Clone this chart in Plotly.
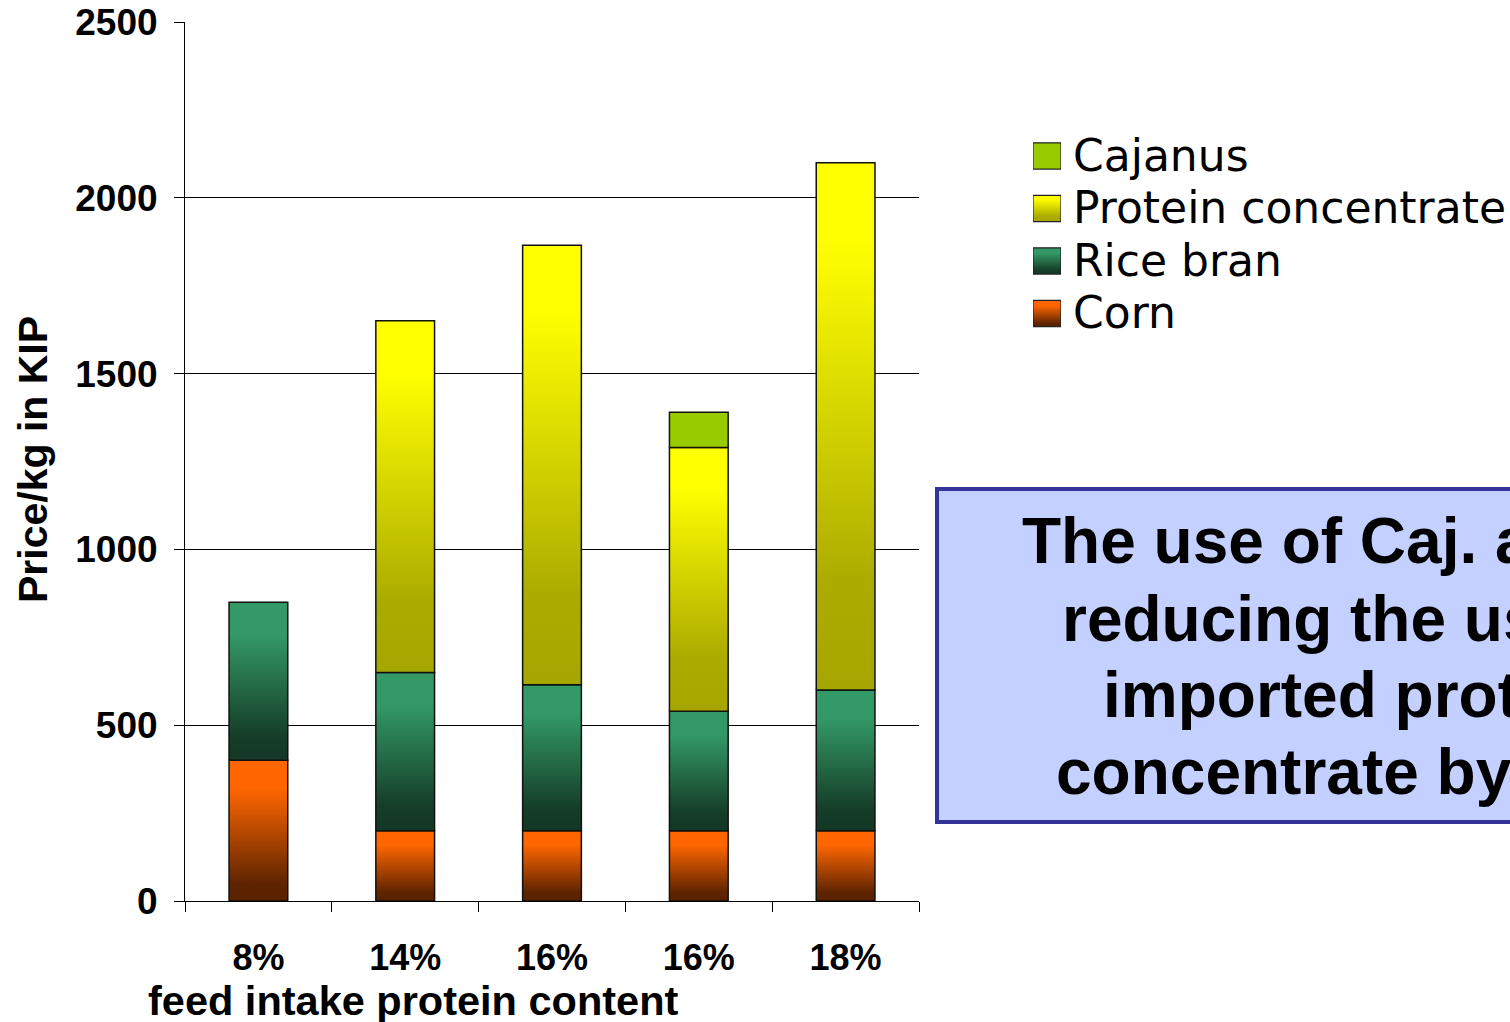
import plotly.graph_objects as go

# ---- data -------------------------------------------------------------
categories = ["8%", "14%", "16%", "16%", "18%"]          # feed intake protein content
series_names = ["Corn", "Rice bran", "Protein concentrate", "Cajanus"]
corn = [400, 200, 200, 200, 200]
rice_bran = [450, 450, 415, 340, 400]
protein_concentrate = [0, 1000, 1250, 750, 1500]
cajanus = [0, 0, 0, 100, 0]
y_ticks = [0, 500, 1000, 1500, 2000, 2500]

series_values = [corn, rice_bran, protein_concentrate, cajanus]

# vertical gradients (bottom -> top) for each series
gradients = {
    "Corn": [[0, "#5a2200"], [0.12, "#5e2400"], [0.8, "#ff6600"], [1, "#ff6600"]],
    "Rice bran": [[0, "#133826"], [0.15, "#153d28"], [0.8, "#339966"], [1, "#339966"]],
    "Protein concentrate": [[0, "#a6a600"], [0.2, "#abab00"], [0.85, "#ffff00"], [1, "#ffff00"]],
    "Cajanus": [[0, "#99cc00"], [1, "#99cc00"]],
}

W, H = 1510, 1022
BAR_HALF = 0.2

def px_x(p):
    return p / W

def px_y(p):
    return (H - p) / H

fig = go.Figure()

# ---- stacked bars, one filled polygon per segment --------------------
base = [0] * len(categories)
for name, vals in zip(series_names, series_values):
    for i, v in enumerate(vals):
        if v <= 0:
            continue
        b, t = base[i], base[i] + v
        fig.add_trace(go.Scatter(
            x=[i - BAR_HALF, i + BAR_HALF, i + BAR_HALF, i - BAR_HALF, i - BAR_HALF],
            y=[b, b, t, t, b],
            mode="lines", fill="toself",
            fillgradient=dict(type="vertical", colorscale=gradients[name]),
            line=dict(color="#111111", width=1.5),
            name=name, showlegend=False, hoverinfo="skip",
            xaxis="x", yaxis="y",
        ))
        base[i] = t

# ---- legend (gradient swatches on a small helper axis) ---------------
legend_order = series_names[::-1]
for k, name in enumerate(legend_order):
    fig.add_trace(go.Scatter(
        x=[0, 1, 1, 0, 0],
        y=[k + 0.25, k + 0.25, k - 0.25, k - 0.25, k + 0.25],
        mode="lines", fill="toself",
        fillgradient=dict(type="vertical", colorscale=gradients[name]),
        line=dict(color="#222222", width=1.2),
        showlegend=False, hoverinfo="skip",
        xaxis="x2", yaxis="y2",
    ))

ROW = 52.5
ROW0 = 156
fig.update_layout(
    xaxis2=dict(domain=[px_x(1033), px_x(1061)], range=[0, 1], visible=False,
                anchor="y2", fixedrange=True),
    yaxis2=dict(domain=[px_y(ROW0 + ROW * 3.5), px_y(ROW0 - ROW * 0.5)],
                range=[3.5, -0.5], visible=False, anchor="x2", fixedrange=True),
)

annotations = []
for k, name in enumerate(legend_order):
    annotations.append(dict(
        text=name, xref="paper", yref="y2", x=px_x(1071), y=k - 0.01,
        xanchor="left", yanchor="middle", showarrow=False,
        font=dict(family="DejaVu Sans", size=44, color="black"),
    ))

bold = dict(family="Liberation Sans, Arial", weight="bold", color="black")

# axis titles
annotations.append(dict(
    text="feed intake protein content", xref="paper", yref="paper",
    x=px_x(413), y=px_y(1000), xanchor="center", yanchor="middle",
    showarrow=False, font=dict(size=41.5, **bold),
))
annotations.append(dict(
    text="Price/kg in KIP", xref="paper", yref="paper",
    x=px_x(33), y=px_y(460), xanchor="center", yanchor="middle",
    textangle=-90, showarrow=False, font=dict(size=41, **bold),
))

# call-out box text
callout_lines = ["The use of Caj. allows", "reducing the use of",
                 "imported protein", "concentrate by 50%"]
callout_left = [1022, 1062, 1103, 1056]
callout_base = [563, 641, 717, 794]
for line, lx, by in zip(callout_lines, callout_left, callout_base):
    annotations.append(dict(
        text=line, xref="paper", yref="paper", x=px_x(lx - 2), y=px_y(by - 22),
        xanchor="left", yanchor="middle", showarrow=False,
        font=dict(size=64, **bold),
    ))

shapes = [dict(
    type="rect", xref="paper", yref="paper",
    x0=px_x(937), x1=px_x(1800), y0=px_y(822), y1=px_y(489),
    fillcolor="#c4d0ff", line=dict(color="#333399", width=4), layer="below",
)]

fig.update_layout(
    width=W, height=H,
    margin=dict(l=0, r=0, t=0, b=0, pad=0, autoexpand=False),
    paper_bgcolor="white", plot_bgcolor="white",
    showlegend=False,
    annotations=annotations,
    shapes=shapes,
    xaxis=dict(
        domain=[px_x(185), px_x(919)], range=[-0.5, len(categories) - 0.5],
        tickvals=list(range(len(categories))), ticktext=categories,
        ticks="", ticklabelstandoff=25,
        tickfont=dict(size=36, **bold),
        showgrid=False, zeroline=False,
        showline=True, linecolor="black", linewidth=1,
        minor=dict(tickvals=[i - 0.5 for i in range(len(categories) + 1)],
                   ticks="outside", ticklen=10, tickcolor="black", tickwidth=1,
                   showgrid=False),
        anchor="y", fixedrange=True, automargin=False,
    ),
    yaxis=dict(
        domain=[px_y(901), px_y(22)], range=[0, 2500],
        tickvals=y_ticks, ticks="outside", ticklen=10, tickcolor="black",
        ticklabelstandoff=9,
        tickfont=dict(size=37, **bold),
        showgrid=True, gridcolor="black", gridwidth=1,
        zeroline=False, showline=True, linecolor="black", linewidth=1,
        anchor="x", fixedrange=True, automargin=False,
    ),
)

fig.write_html("out.html")
